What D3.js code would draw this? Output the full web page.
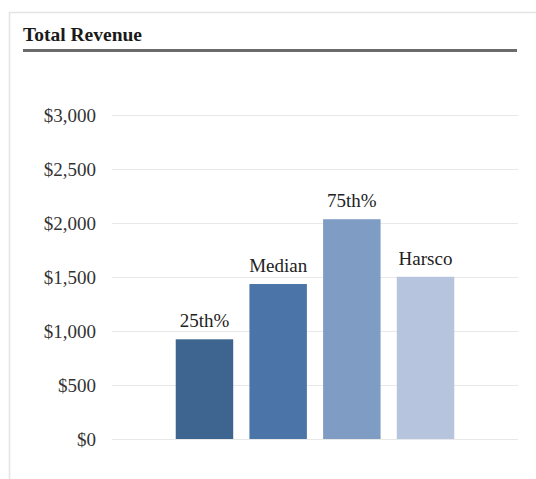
<!DOCTYPE html>
<html>
<head>
<meta charset="utf-8">
<script src="https://cdn.jsdelivr.net/npm/d3@7"></script>
<style>
  html, body { margin: 0; padding: 0; background: #ffffff; }
  svg { display: block; }
</style>
</head>
<body>
<script>
const categories = ["25th%", "Median", "75th%", "Harsco"];
const values = [923, 1435, 2035, 1502];
const barColors = ["#3e6590", "#4b75a9", "#7f9cc5", "#b6c5dd"];
const yTicks = [0, 500, 1000, 1500, 2000, 2500, 3000];
const title = "Total Revenue";

const W = 536, H = 479;
const svg = d3.select("body").append("svg").attr("width", W).attr("height", H);

// panel border
svg.append("path")
  .attr("d", "M9.5,479 L9.5,12.5 L536,12.5")
  .attr("fill", "none").attr("stroke", "#e4e4e4").attr("stroke-width", 1.5);

// title
svg.append("text")
  .attr("x", 23).attr("y", 40.5)
  .attr("font-family", "'Liberation Serif', 'Times New Roman', serif")
  .attr("font-weight", "bold").attr("font-size", 19.5)
  .attr("fill", "#1a1a1a")
  .text(title);

svg.append("line")
  .attr("x1", 23).attr("x2", 517).attr("y1", 50.5).attr("y2", 50.5)
  .attr("stroke", "#6b6b6b").attr("stroke-width", 3);

const x = d3.scaleBand().domain(categories).range([112, 518])
  .paddingInner(0.22).paddingOuter(0.865);
const y = d3.scaleLinear().domain([0, 3000]).range([439, 115]);

// gridlines
svg.append("g").selectAll("line").data(yTicks).join("line")
  .attr("x1", 112).attr("x2", 518)
  .attr("y1", d => y(d) + 0.5).attr("y2", d => y(d) + 0.5)
  .attr("stroke", "#e8e8e8").attr("stroke-width", 1.2);

// y axis labels
const yAxis = d3.axisLeft(y).tickValues(yTicks)
  .tickFormat(d => "$" + d3.format(",")(d)).tickSize(0).tickPadding(0);
const gy = svg.append("g").attr("transform", "translate(96,0)").call(yAxis);
gy.select(".domain").remove();
gy.selectAll("text")
  .attr("font-family", "'Liberation Serif', 'Times New Roman', serif")
  .attr("font-size", 19).attr("fill", "#333");

// bars
svg.append("g").selectAll("rect").data(categories).join("rect")
  .attr("x", d => x(d)).attr("width", x.bandwidth())
  .attr("y", (d, i) => y(values[i])).attr("height", (d, i) => y(0) - y(values[i]))
  .attr("fill", (d, i) => barColors[i]);

// bar labels
svg.append("g").selectAll("text").data(categories).join("text")
  .attr("x", d => x(d) + x.bandwidth() / 2)
  .attr("y", (d, i) => y(values[i]) - 12)
  .attr("text-anchor", "middle")
  .attr("font-family", "'Liberation Serif', 'Times New Roman', serif")
  .attr("font-size", 19).attr("fill", "#222")
  .text(d => d);
</script>
</body>
</html>
